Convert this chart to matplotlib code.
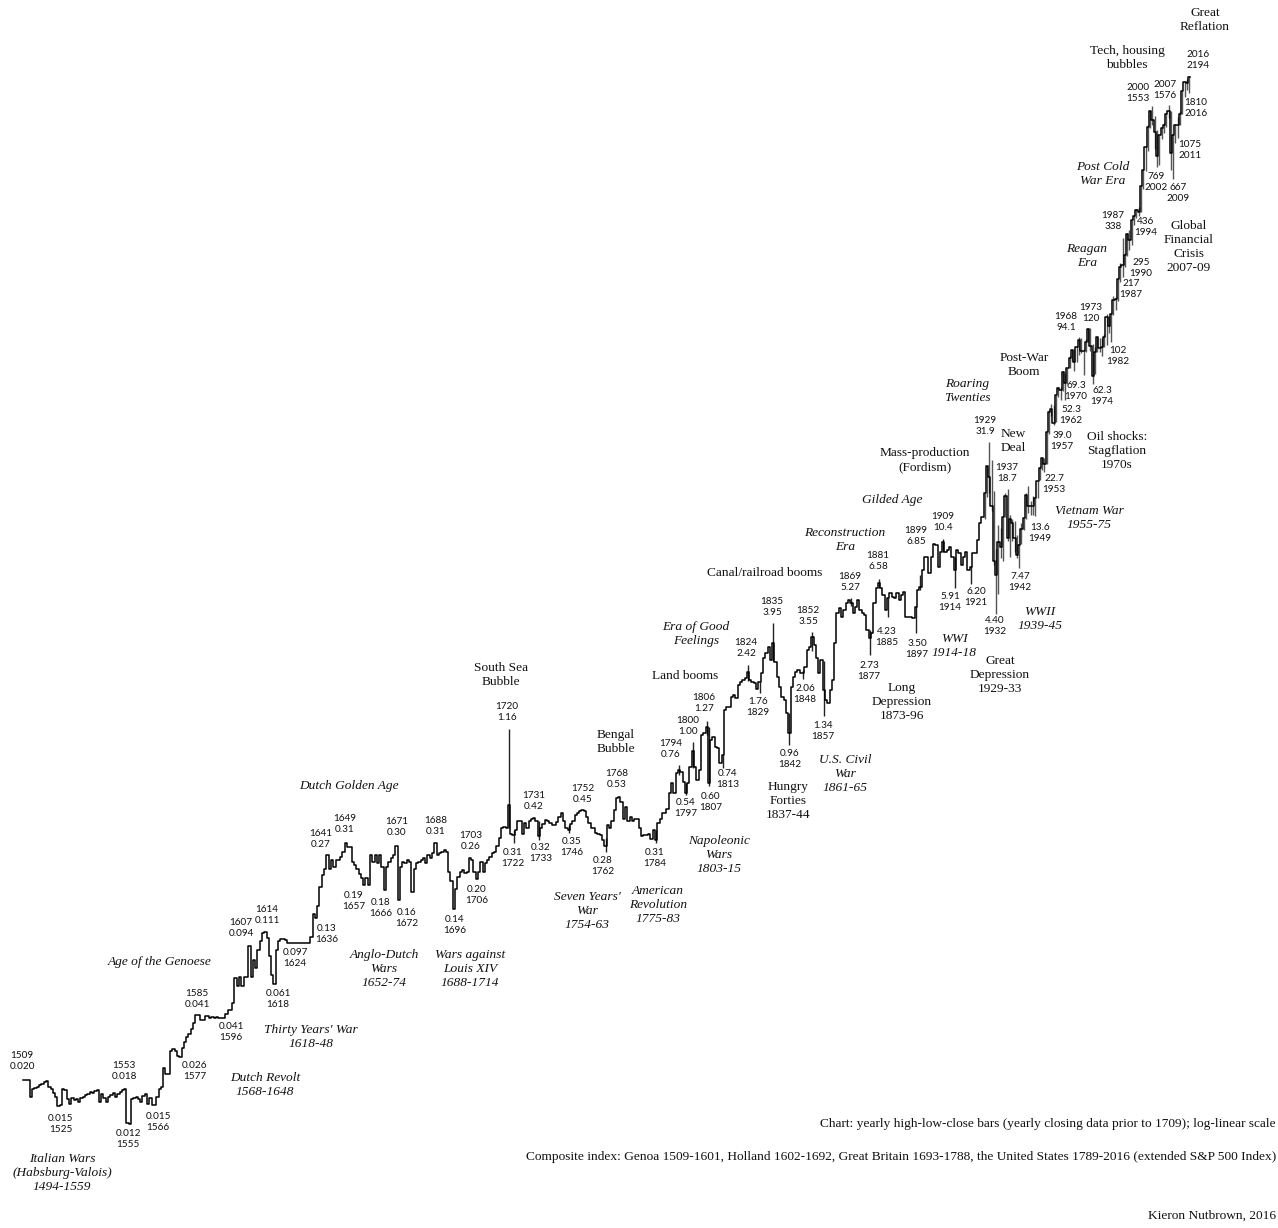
import matplotlib.pyplot as plt
import numpy as np

# yearly closes (composite index)
genoa_close = [  # 1509-1601
    0.020, 0.020, 0.020, 0.0165, 0.018, 0.0182, 0.0185, 0.0188, 0.019, 0.0195,
    0.0198, 0.0185, 0.018, 0.0172, 0.0165, 0.0148, 0.015, 0.018, 0.0178, 0.016,
    0.0152, 0.0162, 0.0158, 0.016, 0.0155, 0.0162, 0.0165, 0.0168, 0.017, 0.0175,
    0.0172, 0.0176, 0.0178, 0.0155, 0.017, 0.0163, 0.0155, 0.0165, 0.0168, 0.0172,
    0.0165, 0.017, 0.0175, 0.0178, 0.018, 0.0122, 0.012, 0.016, 0.0162, 0.0165,
    0.016, 0.0155, 0.0167, 0.017, 0.0152, 0.0163, 0.015, 0.015, 0.0165, 0.018,
    0.0185, 0.023, 0.0215, 0.0215, 0.028, 0.0285, 0.028, 0.0265, 0.026, 0.029,
    0.031, 0.033, 0.034, 0.036, 0.0385, 0.0424, 0.0424, 0.040, 0.040, 0.042,
    0.042, 0.041, 0.0415, 0.041, 0.0415, 0.041, 0.041, 0.041, 0.043, 0.045,
    0.045, 0.049, 0.065,
]
holland_close = [  # 1602-1692
    0.059, 0.066, 0.059, 0.066, 0.066, 0.094, 0.066, 0.080, 0.073, 0.090,
    0.100, 0.110, 0.111, 0.103, 0.084, 0.067, 0.061, 0.090, 0.100, 0.102,
    0.102, 0.101, 0.097, 0.097, 0.097, 0.097, 0.097, 0.097, 0.097, 0.097,
    0.097, 0.098, 0.105, 0.137, 0.130, 0.150, 0.186, 0.215, 0.230, 0.270,
    0.230, 0.255, 0.234, 0.255, 0.255, 0.265, 0.280, 0.310, 0.295, 0.295,
    0.250, 0.240, 0.230, 0.217, 0.207, 0.190, 0.207, 0.190, 0.270, 0.250,
    0.270, 0.245, 0.270, 0.236, 0.180, 0.236, 0.250, 0.260, 0.270, 0.300,
    0.160, 0.236, 0.250, 0.245, 0.255, 0.250, 0.176, 0.230, 0.245, 0.250,
    0.255, 0.260, 0.245, 0.270, 0.260, 0.275, 0.310, 0.270, 0.275, 0.280,
    0.287,
]
britain_close = [  # 1693-1788
    0.280, 0.222, 0.200, 0.145, 0.183, 0.210, 0.222, 0.227, 0.218, 0.222,
    0.260, 0.255, 0.222, 0.205, 0.222, 0.250, 0.222, 0.245, 0.255, 0.265,
    0.275, 0.280, 0.300, 0.330, 0.370, 0.375, 0.370, 0.480, 0.345, 0.340,
    0.360, 0.400, 0.400, 0.345, 0.390, 0.370, 0.400, 0.410, 0.415, 0.400,
    0.335, 0.370, 0.385, 0.405, 0.400, 0.390, 0.380, 0.380, 0.395, 0.420,
    0.440, 0.400, 0.370, 0.360, 0.385, 0.400, 0.430, 0.440, 0.450, 0.455,
    0.450, 0.420, 0.390, 0.370, 0.370, 0.350, 0.345, 0.340, 0.320, 0.300,
    0.380, 0.370, 0.400, 0.455, 0.520, 0.525, 0.500, 0.410, 0.470, 0.400,
    0.420, 0.400, 0.410, 0.410, 0.370, 0.335, 0.340, 0.340, 0.345, 0.325,
    0.360, 0.320, 0.390, 0.410, 0.440, 0.440,
]
us_close = [  # 1789-2016
    0.46, 0.55, 0.618, 0.55, 0.694, 0.72, 0.707, 0.63, 0.55, 0.618,
    0.75, 0.90, 0.75, 0.642, 0.72, 1.08, 1.10, 1.19, 0.62, 1.02,
    1.06, 0.944, 0.926, 0.779, 0.858, 1.44, 1.50, 1.50, 1.68, 1.72,
    1.65, 1.93, 2.00, 2.04, 2.08, 2.25, 2.04, 2.00, 1.97, 1.85,
    2.00, 2.21, 2.62, 2.78, 3.00, 2.57, 3.12, 2.52, 2.12, 1.89,
    1.68, 1.62, 1.39, 1.10, 1.89, 2.12, 2.25, 2.29, 2.21, 2.21,
    2.38, 2.89, 3.00, 3.35, 3.05, 2.62, 2.21, 2.57, 1.82, 1.62,
    1.56, 1.82, 2.04, 3.12, 4.41, 4.68, 4.25, 4.59, 4.95, 5.15,
    5.00, 4.42, 4.77, 5.15, 4.59, 4.42, 4.33, 3.64, 3.31, 3.50,
    4.95, 5.90, 6.25, 5.90, 5.46, 4.59, 5.25, 5.57, 5.35, 5.25,
    5.57, 5.15, 5.46, 5.67, 4.25, 4.25, 4.25, 4.17, 4.77, 5.78,
    6.00, 7.29, 8.50, 8.50, 7.00, 8.50, 9.90, 9.73, 7.57, 9.00,
    10.1, 9.00, 9.18, 9.54, 8.50, 7.29, 9.18, 8.84, 7.72, 8.50,
    9.00, 7.29, 7.57, 8.84, 8.84, 10.3, 12.5, 13.49, 17.66, 24.35,
    21.45, 15.34, 8.12, 6.89, 10.10, 9.50, 13.43, 17.18, 10.55, 13.21,
    12.49, 10.58, 8.69, 9.77, 11.67, 13.28, 17.36, 15.30, 15.30, 15.20,
    16.76, 20.41, 23.77, 26.57, 24.81, 35.98, 45.48, 46.67, 39.99, 55.21,
    59.89, 58.11, 71.55, 63.10, 75.02, 84.75, 92.43, 80.33, 96.47, 103.86,
    92.06, 92.15, 102.09, 118.05, 97.55, 68.56, 90.19, 107.46, 95.10, 96.11,
    107.94, 135.76, 122.55, 140.64, 164.93, 167.24, 211.28, 242.17, 247.08, 277.72,
    353.40, 330.22, 417.09, 435.71, 466.45, 459.27, 615.93, 740.74, 970.43, 1229.23,
    1469.25, 1320.28, 1148.08, 879.82, 1111.92, 1211.92, 1248.29, 1418.30, 1468.36, 903.25,
    1115.10, 1257.64, 1257.60, 1426.19, 1848.36, 2058.90, 2043.94, 2180.0,
]

# high-low ranges: notable early years, then every year 1927-2016
spike_years = [1720, 1722, 1733, 1746, 1762, 1784, 1794, 1797, 1800, 1806, 1807,
               1813, 1824, 1829, 1835, 1842, 1848, 1852, 1857, 1869, 1877, 1881,
               1885, 1897, 1899, 1909, 1914, 1921]
spike_low = [0.37, 0.31, 0.32, 0.35, 0.28, 0.31, 0.68, 0.54, 0.74, 1.08, 0.60,
             0.74, 2.02, 1.76, 2.55, 0.96, 2.06, 2.85, 1.34, 4.80, 2.73, 5.90,
             4.23, 3.50, 5.80, 9.00, 5.91, 6.20]
spike_high = [1.16, 0.36, 0.40, 0.38, 0.33, 0.36, 0.76, 0.62, 1.00, 1.27, 1.19,
              0.86, 2.42, 2.00, 3.95, 1.40, 2.30, 3.55, 2.55, 5.27, 3.65, 6.58,
              5.30, 4.80, 6.85, 10.4, 8.50, 7.60]
sp_low = [  # 1927-2016
    13.2, 16.9, 17.7, 14.4, 7.7, 4.40, 5.5, 8.4, 8.1, 13.4,
    10.2, 8.5, 10.2, 9.0, 8.4, 7.47, 9.8, 11.6, 13.2, 14.1,
    13.7, 13.8, 13.6, 16.7, 20.7, 23.1, 22.7, 24.8, 35.0, 43.1,
    39.0, 40.3, 53.6, 52.3, 57.6, 52.3, 62.7, 75.4, 81.6, 73.2,
    80.4, 87.7, 89.2, 69.3, 90.2, 101.7, 92.2, 62.3, 70.0, 90.9,
    90.7, 86.9, 96.1, 98.2, 112.8, 102.0, 138.3, 147.8, 163.7, 203.5,
    217.0, 242.6, 275.3, 295.0, 311.5, 394.5, 429.0, 436.0, 459.1, 597.3,
    733.5, 923.3, 1212.2, 1254.1, 944.8, 769.0, 788.9, 1060.7, 1136.2, 1219.3,
    1363.0, 741.0, 667.0, 1010.9, 1075.0, 1258.9, 1426.2, 1737.9, 1867.0, 1810.0,
]
sp_high = [  # 1927-2016
    17.7, 24.4, 31.9, 25.9, 18.2, 9.3, 12.2, 11.8, 13.5, 17.7,
    18.7, 13.8, 13.2, 12.8, 10.9, 9.8, 12.6, 13.3, 17.7, 19.3,
    16.2, 17.1, 16.8, 20.4, 23.9, 26.6, 26.7, 36.0, 46.4, 49.7,
    49.1, 55.2, 60.7, 60.4, 72.6, 71.1, 75.0, 86.3, 92.6, 94.1,
    97.6, 108.4, 106.2, 93.5, 104.8, 119.1, 120.0, 99.8, 95.6, 107.8,
    107.0, 107.0, 111.3, 140.5, 138.1, 143.0, 172.7, 170.4, 212.0, 254.0,
    338.0, 283.7, 360.4, 369.8, 418.3, 442.7, 471.3, 482.9, 622.9, 757.0,
    983.8, 1244.9, 1476.1, 1553.0, 1383.4, 1176.9, 1112.6, 1217.9, 1275.8, 1431.8,
    1576.0, 1471.8, 1130.4, 1262.6, 1370.6, 1474.5, 1849.4, 2093.6, 2134.7, 2194.0,
]

years = np.arange(1509, 2017)
close = np.array(genoa_close + holland_close + britain_close + us_close)
sp_years = np.arange(1927, 2017)

fig = plt.figure(figsize=(12.78, 12.28), dpi=100)
ax = fig.add_axes([0, 0, 1, 1])
ax.set_yscale('log')
ax.set_xlim(1498.99, 2055.13)
ax.set_ylim(0.003612, 5314)
ax.axis('off')

ax.vlines(np.array(spike_years) + 0.5, spike_low, spike_high, color='#222222', lw=1.0)
ax.vlines(sp_years + 0.5, sp_low, sp_high, color='#555555', lw=1.0)
ax.step(np.append(years, 2017), np.append(close, close[-1]), where='post',
        color='black', lw=1.1)

NUM = dict(family='Lato', fontsize=7.2, color='#111111')
SERIF = dict(family='Liberation Serif', fontsize=9.6, color='#111111')


def put(x, y, s, font, ha='center', italic=False):
    fig.text(x / 1278, 1 - y / 1228, s, ha=ha, va='center',
             style='italic' if italic else 'normal', **font)


numbers = [
    (22, 1061, '1509\n0.020'), (61, 1124, '0.015\n1525'), (124, 1071, '1553\n0.018'),
    (128, 1139, '0.012\n1555'), (158, 1122, '0.015\n1566'), (195, 1071, '0.026\n1577'),
    (197, 999, '1585\n0.041'), (231, 1032, '0.041\n1596'), (241, 928, '1607\n0.094'),
    (267, 915, '1614\n0.111'), (295, 958, '0.097\n1624'), (278, 999, '0.061\n1618'),
    (327, 934, '0.13\n1636'), (321, 839, '1641\n0.27'), (345, 824, '1649\n0.31'),
    (354, 901, '0.19\n1657'), (397, 827, '1671\n0.30'), (381, 908, '0.18\n1666'),
    (407, 918, '0.16\n1672'), (436, 826, '1688\n0.31'), (455, 925, '0.14\n1696'),
    (471, 841, '1703\n0.26'), (477, 895, '0.20\n1706'), (507, 712, '1720\n1.16'),
    (513, 858, '0.31\n1722'), (534, 801, '1731\n0.42'), (541, 853, '0.32\n1733'),
    (583, 794, '1752\n0.45'), (572, 847, '0.35\n1746'), (603, 866, '0.28\n1762'),
    (617, 779, '1768\n0.53'), (655, 858, '0.31\n1784'), (671, 749, '1794\n0.76'),
    (688, 726, '1800\n1.00'), (704, 703, '1806\n1.27'), (686, 808, '0.54\n1797'),
    (711, 802, '0.60\n1807'), (728, 779, '0.74\n1813'), (746, 648, '1824\n2.42'),
    (758, 707, '1.76\n1829'), (772, 607, '1835\n3.95'), (790, 759, '0.96\n1842'),
    (805, 694, '2.06\n1848'), (808, 616, '1852\n3.55'), (823, 731, '1.34\n1857'),
    (850, 582, '1869\n5.27'), (869, 671, '2.73\n1877'), (878, 561, '1881\n6.58'),
    (887, 637, '4.23\n1885'), (917, 649, '3.50\n1897'), (916, 536, '1899\n6.85'),
    (943, 522, '1909\n10.4'), (950, 602, '5.91\n1914'), (976, 597, '6.20\n1921'),
    (995, 626, '4.40\n1932'), (985, 426, '1929\n31.9'), (1007, 473, '1937\n18.7'),
    (1020, 582, '7.47\n1942'), (1040, 533, '13.6\n1949'), (1054, 484, '22.7\n1953'),
    (1062, 441, '39.0\n1957'), (1071, 415, '52.3\n1962'), (1066, 322, '1968\n94.1'),
    (1091, 313, '1973\n120'), (1076, 391, '69.3\n1970'), (1102, 396, '62.3\n1974'),
    (1118, 356, '102\n1982'), (1131, 289, '217\n1987'), (1113, 221, '1987\n338'),
    (1141, 268, '295\n1990'), (1146, 227, '436\n1994'), (1138, 93, '2000\n1553'),
    (1165, 90, '2007\n1576'), (1156, 182, '769\n2002'), (1178, 193, '667\n2009'),
    (1190, 150, '1075\n2011'), (1196, 108, '1810\n2016'), (1198, 60, '2016\n2194'),
]
for x, y, s in numbers:
    put(x, y, s, NUM)

events = [
    (62, 1173, 'Italian Wars\n(Habsburg-Valois)\n1494-1559', True),
    (265, 1085, 'Dutch Revolt\n1568-1648', True),
    (311, 1037, "Thirty Years' War\n1618-48", True),
    (160, 962, 'Age of the Genoese', True),
    (384, 969, 'Anglo-Dutch\nWars\n1652-74', True),
    (470, 969, 'Wars against\nLouis XIV\n1688-1714', True),
    (349, 786, 'Dutch Golden Age', True),
    (501, 675, 'South Sea\nBubble', False),
    (616, 742, 'Bengal\nBubble', False),
    (587, 911, "Seven Years'\nWar\n1754-63", True),
    (658, 905, 'American\nRevolution\n1775-83', True),
    (719, 855, 'Napoleonic\nWars\n1803-15', True),
    (685, 676, 'Land booms', False),
    (696, 634, 'Era of Good\nFeelings', True),
    (788, 801, 'Hungry\nForties\n1837-44', False),
    (845, 774, 'U.S. Civil\nWar\n1861-65', True),
    (765, 573, 'Canal/railroad booms', False),
    (845, 540, 'Reconstruction\nEra', True),
    (902, 702, 'Long\nDepression\n1873-96', False),
    (892, 500, 'Gilded Age', True),
    (925, 460, 'Mass-production\n(Fordism)', False),
    (954, 646, 'WWI\n1914-18', True),
    (1000, 675, 'Great\nDepression\n1929-33', False),
    (1040, 619, 'WWII\n1939-45', True),
    (967, 391, 'Roaring\nTwenties', True),
    (1013, 441, 'New\nDeal', False),
    (1024, 365, 'Post-War\nBoom', False),
    (1089, 518, 'Vietnam War\n1955-75', True),
    (1117, 451, 'Oil shocks:\nStagflation\n1970s', False),
    (1087, 256, 'Reagan\nEra', True),
    (1103, 174, 'Post Cold\nWar Era', True),
    (1189, 247, 'Global\nFinancial\nCrisis\n2007-09', False),
    (1127, 58, 'Tech, housing\nbubbles', False),
    (1205, 20, 'Great\nReflation', False),
]
for x, y, s, it in events:
    put(x, y, s, SERIF, italic=it)

put(1276, 1124, 'Chart: yearly high-low-close bars (yearly closing data prior to 1709); '
    'log-linear scale', SERIF, ha='right')
put(1276, 1157, 'Composite index: Genoa 1509-1601, Holland 1602-1692, Great Britain '
    '1693-1788, the United States 1789-2016 (extended S&P 500 Index)', SERIF, ha='right')
put(1276, 1216, 'Kieron Nutbrown, 2016', SERIF, ha='right')

fig.savefig('out.png', dpi=100, facecolor='white')
